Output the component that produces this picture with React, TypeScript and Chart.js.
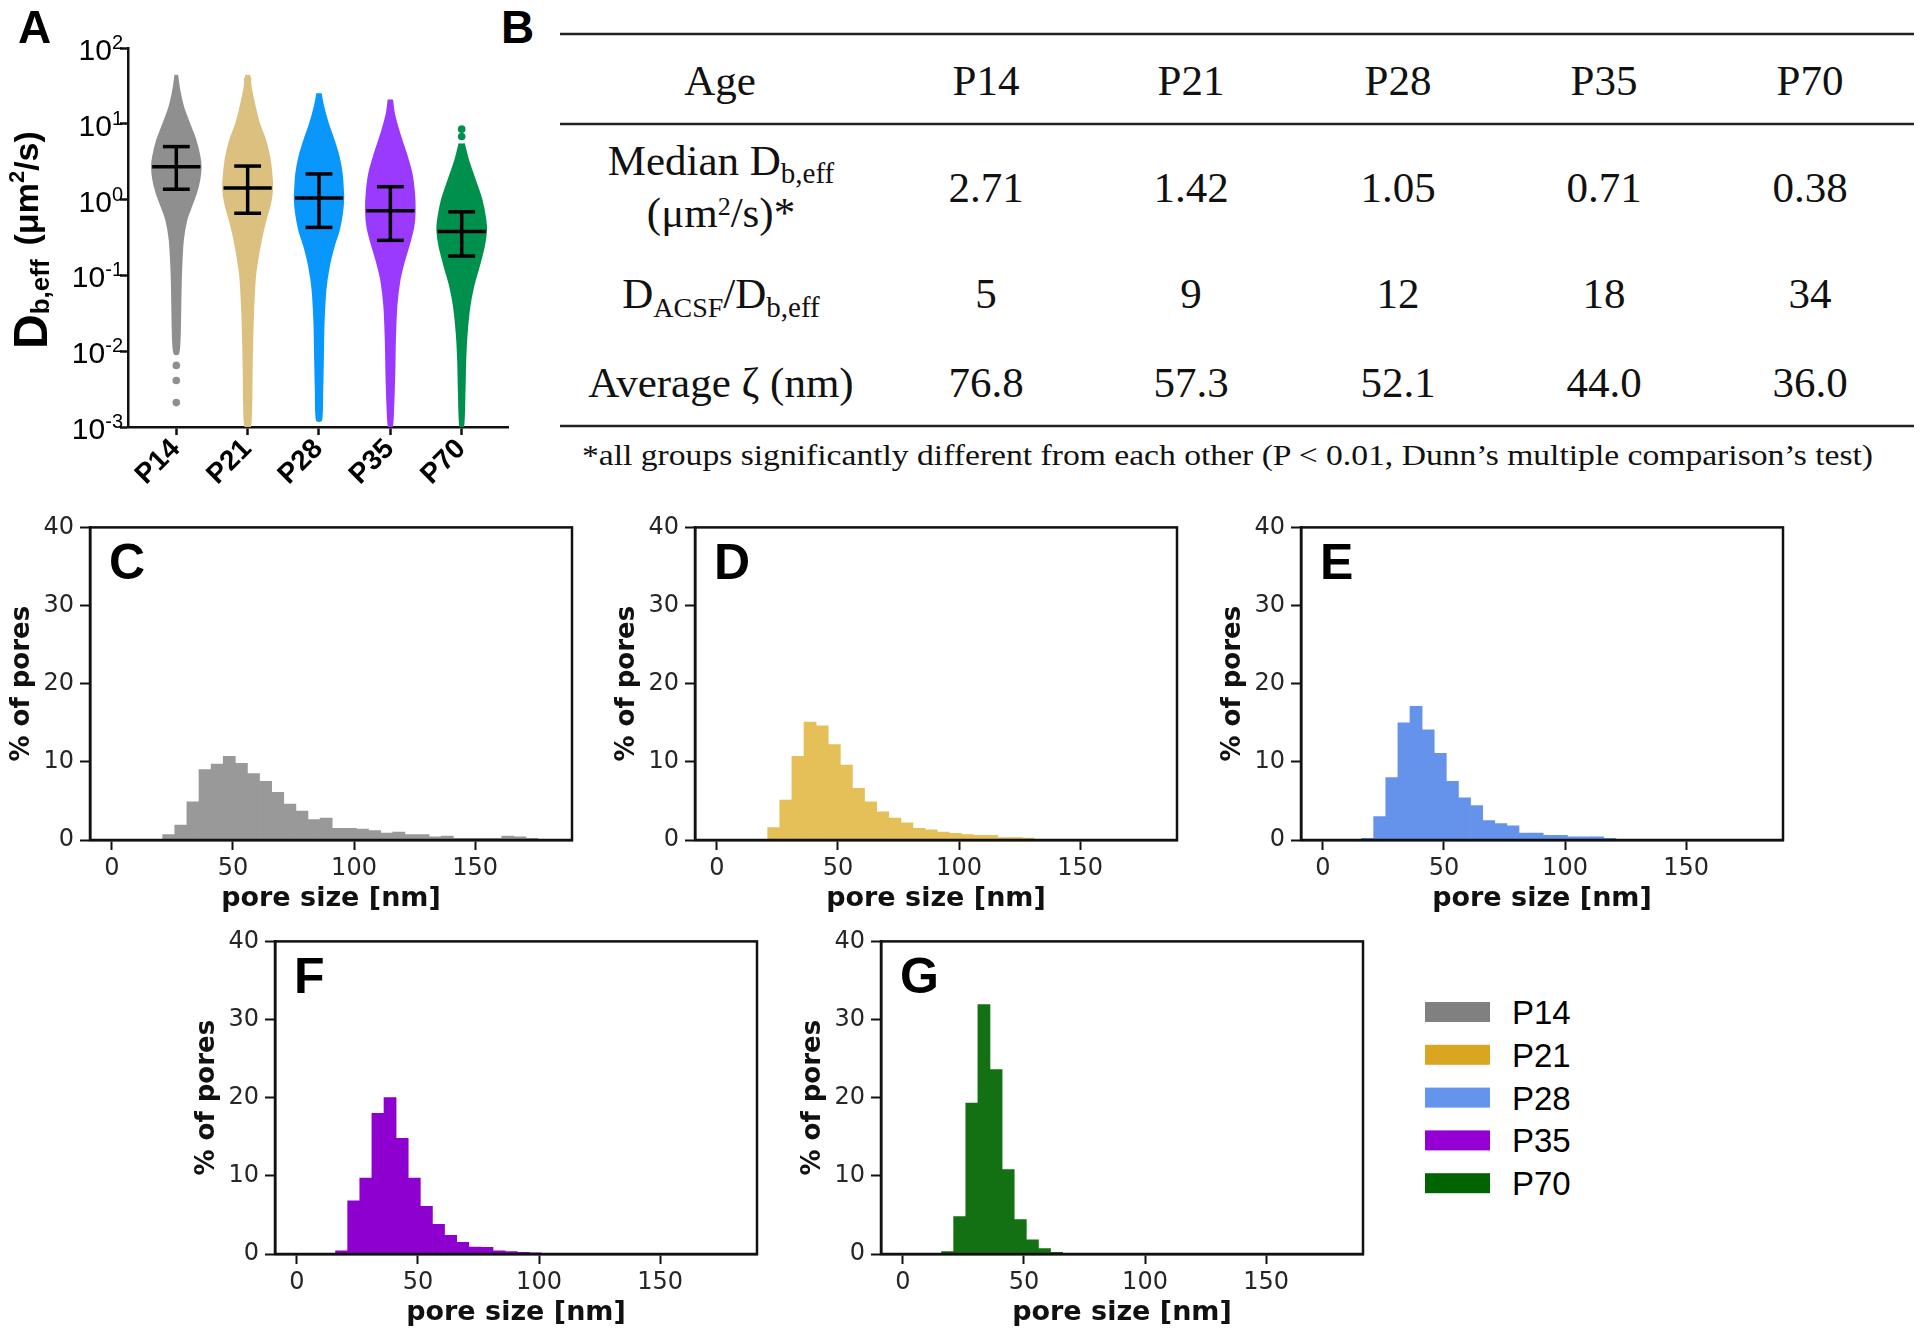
import React, { useEffect, useRef } from 'react';
import { Chart, registerables } from 'chart.js';

Chart.register(...registerables);

const SANS = '"Liberation Sans", Arial, sans-serif';
const DJV = '"DejaVu Sans", sans-serif';
const SERIF = '"Liberation Serif", "Times New Roman", serif';

// ---------------- Panel A data ----------------
const ageGroups = ['P14', 'P21', 'P28', 'P35', 'P70'];
const decadeTicks = [0.001, 0.01, 0.1, 1, 10, 100];
const decadeExponents = ['-3', '-2', '-1', '0', '1', '2'];
const medianD = [2.71, 1.42, 1.05, 0.71, 0.38];
const upperD = [5.0, 2.77, 2.18, 1.48, 0.69];
const lowerD = [1.37, 0.66, 0.43, 0.29, 0.18];
const violinColors = ['#8F8F8F', '#DCC07F', '#0A97FB', '#9A3AFE', '#00904D'];

// violin outlines: D values (µm²/s) top→bottom and half widths (category units)
const p14ViolinD = [44.1, 27.9, 16.8, 10.1, 6.11, 3.68, 2.72, 1.82, 1.21, 0.807, 0.537, 0.293, 0.107, 0.0389, 0.0141, 0.0093];
const p14ViolinW = [0.012, 0.042, 0.095, 0.18, 0.268, 0.325, 0.34, 0.322, 0.275, 0.205, 0.14, 0.092, 0.066, 0.056, 0.046, 0.025];
const p21ViolinD = [44.1, 27.9, 16.8, 10.1, 6.11, 3.68, 2.22, 1.41, 0.891, 0.537, 0.293, 0.107, 0.0389, 0.0141, 0.00513, 0.00186, 0.001];
const p21ViolinW = [0.02, 0.05, 0.1, 0.16, 0.245, 0.302, 0.332, 0.343, 0.315, 0.25, 0.185, 0.108, 0.079, 0.064, 0.055, 0.049, 0.03];
const p28ViolinD = [25.2, 16.8, 10.1, 6.11, 3.68, 2.22, 1.34, 1.04, 0.661, 0.398, 0.24, 0.132, 0.0646, 0.0234, 0.00851, 0.00309, 0.00123];
const p28ViolinW = [0.024, 0.06, 0.125, 0.205, 0.275, 0.318, 0.335, 0.34, 0.322, 0.278, 0.205, 0.138, 0.09, 0.064, 0.055, 0.045, 0.03];
const p35ViolinD = [20.9, 13.7, 7.48, 4.07, 2.22, 1.21, 0.695, 0.437, 0.263, 0.158, 0.0871, 0.0389, 0.0141, 0.00513, 0.00186, 0.001];
const p35ViolinW = [0.024, 0.05, 0.125, 0.218, 0.296, 0.332, 0.34, 0.322, 0.264, 0.194, 0.128, 0.084, 0.064, 0.055, 0.04, 0.02];
const p70ViolinD = [5.5, 3.31, 1.81, 0.986, 0.537, 0.38, 0.24, 0.132, 0.0708, 0.0389, 0.0174, 0.00776, 0.00309, 0.001];
const p70ViolinW = [0.03, 0.09, 0.185, 0.278, 0.332, 0.34, 0.31, 0.24, 0.16, 0.108, 0.07, 0.05, 0.04, 0.02];
const p14Outliers = [0.0065, 0.0041, 0.0021];
const p21Outliers = [38.0];
const p28Outliers: number[] = [];
const p35Outliers: number[] = [];
const p70Outliers = [8.5, 6.8];

const violinD = [p14ViolinD, p21ViolinD, p28ViolinD, p35ViolinD, p70ViolinD];
const violinW = [p14ViolinW, p21ViolinW, p28ViolinW, p35ViolinW, p70ViolinW];
const outlierD = [p14Outliers, p21Outliers, p28Outliers, p35Outliers, p70Outliers];

// ---------------- Panel B data ----------------
const tableMedian = ['2.71', '1.42', '1.05', '0.71', '0.38'];
const tableRatio = ['5', '9', '12', '18', '34'];
const tableZeta = ['76.8', '57.3', '52.1', '44.0', '36.0'];
const footnote = '*all groups significantly different from each other (P < 0.01, Dunn\u2019s multiple comparison\u2019s test)';

// ---------------- Panels C–G data ----------------
const poreBins = [3.5, 8.5, 13.5, 18.5, 23.5, 28.5, 33.5, 38.5, 43.5, 48.5, 53.5, 58.5, 63.5, 68.5, 73.5, 78.5, 83.5, 88.5,
  93.5, 98.5, 103.5, 108.5, 113.5, 118.5, 123.5, 128.5, 133.5, 138.5, 143.5, 148.5, 153.5, 158.5, 163.5, 168.5, 173.5, 178.5];
const poreTicks = [0, 50, 100, 150];
const percentTicks = [0, 10, 20, 30, 40];
const histP14 = [0, 0, 0, 0, 0.7, 1.9, 4.9, 9.0, 9.7, 10.7, 9.8, 8.5, 7.5, 6.1, 4.6, 3.7, 2.6, 2.8, 1.5, 1.5, 1.4, 1.2, 0.9, 1.0,
  0.7, 0.7, 0.4, 0.5, 0.2, 0.2, 0.2, 0.2, 0.5, 0.4, 0.2, 0.1];
const histP21 = [0, 0, 0, 0, 1.6, 5.1, 10.7, 15.1, 14.6, 12.2, 9.6, 6.6, 4.9, 3.6, 2.8, 2.2, 1.5, 1.3, 1.0, 0.85, 0.7, 0.6, 0.6, 0.3,
  0.3, 0.25, 0.1, 0.1, 0.05, 0.05, 0, 0, 0, 0, 0, 0];
const histP28 = [0, 0, 0, 0.2, 3.0, 8.0, 15.0, 17.1, 14.1, 11.1, 7.5, 5.4, 4.4, 2.5, 2.1, 1.8, 0.9, 0.9, 0.6, 0.6, 0.4, 0.4, 0.4, 0.2,
  0.1, 0, 0, 0, 0, 0, 0, 0, 0, 0, 0, 0];
const histP35 = [0, 0, 0, 0.4, 6.8, 9.7, 18.0, 20.0, 14.8, 9.7, 6.1, 3.8, 2.4, 1.5, 0.9, 0.85, 0.4, 0.3, 0.2, 0.15, 0.1, 0.05, 0.05, 0,
  0, 0, 0, 0, 0, 0, 0, 0, 0, 0, 0, 0];
const histP70 = [0, 0, 0, 0.3, 4.8, 19.3, 31.9, 23.6, 10.8, 4.4, 1.8, 0.7, 0.2, 0.1, 0, 0, 0, 0, 0, 0, 0, 0, 0, 0,
  0, 0, 0, 0, 0, 0, 0, 0, 0, 0, 0, 0];
const histColors = ['#999999', '#E5BF57', '#6593EB', '#8E00CF', '#137113'];
const legendColors = ['#808080', '#DAA520', '#6495ED', '#9400D3', '#006400'];

// ---------------- layout constants ----------------
const MEDIAN_HALF = 0.338;
const CAP_HALF = 0.188;

const panelAPlugin = {
  id: 'panelAText',
  afterDraw(chart: any) {
    const { ctx, chartArea } = chart;
    const x = chart.scales.x;
    const y = chart.scales.y;
    ctx.save();
    ctx.fillStyle = '#000';
    ctx.textBaseline = 'alphabetic';
    // y tick labels 10^n
    decadeTicks.forEach((v, i) => {
      const py = y.getPixelForValue(v);
      ctx.font = `30px ${SANS}`;
      const w10 = ctx.measureText('10').width;
      ctx.font = `20px ${SANS}`;
      const we = ctx.measureText(decadeExponents[i]).width;
      const right = chartArea.left - 5;
      ctx.textAlign = 'left';
      ctx.font = `30px ${SANS}`;
      ctx.fillText('10', right - we - w10, py + 12);
      ctx.font = `20px ${SANS}`;
      ctx.fillText(decadeExponents[i], right - we, py + 1);
    });
    // rotated category labels
    ctx.font = `bold 28px ${SANS}`;
    ctx.textAlign = 'right';
    ageGroups.forEach((g, i) => {
      const px = x.getPixelForValue(i);
      ctx.save();
      ctx.translate(px + 5, chartArea.bottom + 23);
      ctx.rotate(-Math.PI / 4);
      ctx.fillText(g, 0, 0);
      ctx.restore();
    });
    // y title
    ctx.save();
    ctx.translate(47, 349);
    ctx.rotate(-Math.PI / 2);
    ctx.textAlign = 'left';
    ctx.font = `bold 48px ${SANS}`;
    ctx.fillText('D', 0, 0);
    let cx = ctx.measureText('D').width;
    ctx.font = `bold 26px ${SANS}`;
    ctx.fillText('b,eff', cx, 2);
    cx += ctx.measureText('b,eff').width + 14;
    ctx.font = `bold 34px ${SANS}`;
    ctx.fillText('(\u03bcm', cx, -9);
    cx += ctx.measureText('(\u03bcm').width;
    ctx.font = `bold 22px ${SANS}`;
    ctx.fillText('2', cx, -23);
    cx += ctx.measureText('2').width;
    ctx.font = `bold 34px ${SANS}`;
    ctx.fillText('/s)', cx, -9);
    ctx.restore();
    // panel letter
    ctx.textAlign = 'left';
    ctx.font = `bold 46px ${SANS}`;
    ctx.fillText('A', 18, 43);
    ctx.restore();
  },
};

function buildPanelA(canvas: HTMLCanvasElement) {
  const datasets: any[] = [];
  ageGroups.forEach((_, i) => {
    const seg = (pts: any[]) => ({
      type: 'line', data: pts, borderColor: '#000', backgroundColor: '#000', borderWidth: 3.5,
      pointRadius: 0, fill: false, tension: 0, order: 0, borderCapStyle: 'butt',
    });
    datasets.push(seg([{ x: i - MEDIAN_HALF, y: medianD[i] }, { x: i + MEDIAN_HALF, y: medianD[i] }]));
    datasets.push(seg([{ x: i - CAP_HALF, y: upperD[i] }, { x: i + CAP_HALF, y: upperD[i] }]));
    datasets.push(seg([{ x: i - CAP_HALF, y: lowerD[i] }, { x: i + CAP_HALF, y: lowerD[i] }]));
    datasets.push(seg([{ x: i, y: lowerD[i] }, { x: i, y: upperD[i] }]));
  });
  ageGroups.forEach((_, i) => {
    const col = violinColors[i];
    const right = violinD[i].map((d, k) => ({ x: i + violinW[i][k], y: d }));
    const left = violinD[i].map((d, k) => ({ x: i - violinW[i][k], y: d })).reverse();
    datasets.push({
      type: 'line', data: [...right, ...left], borderColor: col, backgroundColor: col, borderWidth: 2,
      pointRadius: 0, fill: 'shape', tension: 0.3, order: 2,
    });
    datasets.push({
      type: 'line', data: outlierD[i].map((d) => ({ x: i, y: d })), showLine: false, pointRadius: 3.8,
      pointBackgroundColor: col, pointBorderWidth: 0, borderColor: col, order: 1,
    });
  });
  return new Chart(canvas, {
    type: 'line',
    data: { datasets },
    options: {
      animation: false,
      responsive: false,
      devicePixelRatio: 1,
      layout: { padding: { top: 48, right: 12, left: 0, bottom: 0 } },
      plugins: { legend: { display: false }, tooltip: { enabled: false } },
      scales: {
        x: {
          type: 'linear', min: -0.677, max: 4.649,
          afterBuildTicks: (s: any) => { s.ticks = ageGroups.map((_, i) => ({ value: i })); },
          afterFit: (s: any) => { s.height = 73; },
          ticks: { display: false },
          grid: { display: true, drawOnChartArea: false, drawTicks: true, tickLength: 8, tickWidth: 2.5, tickColor: '#111' },
          border: { display: true, color: '#111', width: 2.5 },
        },
        y: {
          type: 'logarithmic', min: 0.001, max: 100,
          afterBuildTicks: (s: any) => { s.ticks = decadeTicks.map((v) => ({ value: v, major: true })); },
          afterFit: (s: any) => { s.width = 128; },
          ticks: { display: false },
          grid: { display: true, drawOnChartArea: false, drawTicks: true, tickLength: 8, tickWidth: 2.5, tickColor: '#111' },
          border: { display: true, color: '#111', width: 2.5 },
        },
      },
    } as any,
    plugins: [panelAPlugin],
  } as any);
}

function histPlugin(letter: string) {
  return {
    id: 'histDecor' + letter,
    afterDraw(chart: any) {
      const { ctx, chartArea } = chart;
      ctx.save();
      ctx.strokeStyle = '#111';
      ctx.lineWidth = 2.5;
      ctx.strokeRect(chartArea.left, chartArea.top, chartArea.right - chartArea.left, chartArea.bottom - chartArea.top);
      ctx.fillStyle = '#000';
      ctx.font = `bold 50px ${SANS}`;
      ctx.textAlign = 'left';
      ctx.textBaseline = 'alphabetic';
      ctx.fillText(letter, chartArea.left + 19, chartArea.top + 52);
      ctx.restore();
    },
  };
}

function buildHist(values: number[], color: string, letter: string) {
  return (canvas: HTMLCanvasElement) => new Chart(canvas, {
    type: 'bar',
    data: {
      datasets: [{
        data: poreBins.map((b, i) => ({ x: b, y: values[i] })),
        backgroundColor: color, borderWidth: 0, barPercentage: 1, categoryPercentage: 1,
      }],
    },
    options: {
      animation: false,
      responsive: false,
      devicePixelRatio: 1,
      layout: { padding: { top: 20, right: 12, left: 0, bottom: 0 } },
      plugins: { legend: { display: false }, tooltip: { enabled: false } },
      scales: {
        x: {
          type: 'linear', min: -9, max: 190, offset: false,
          afterBuildTicks: (s: any) => { s.ticks = poreTicks.map((v) => ({ value: v })); },
          afterFit: (s: any) => { s.height = 75; },
          ticks: { font: { family: DJV, size: 24 }, color: '#262626', padding: 4, maxRotation: 0 },
          grid: { display: true, offset: false, drawOnChartArea: false, drawTicks: true, tickLength: 10, tickWidth: 2, tickColor: '#111' },
          border: { display: true, color: '#111', width: 2.5 },
          title: { display: true, text: 'pore size [nm]', font: { family: DJV, size: 27, weight: 'bold' }, color: '#111', padding: 0 },
        },
        y: {
          min: 0, max: 40,
          afterBuildTicks: (s: any) => { s.ticks = percentTicks.map((v) => ({ value: v })); },
          afterFit: (s: any) => { s.width = 90; },
          ticks: { font: { family: DJV, size: 24 }, color: '#262626', padding: 6 },
          grid: { display: true, drawOnChartArea: false, drawTicks: true, tickLength: 10, tickWidth: 2, tickColor: '#111' },
          border: { display: true, color: '#111', width: 2.5 },
          title: { display: true, text: '% of pores', font: { family: DJV, size: 26, weight: 'bold' }, color: '#111', padding: { top: 7, bottom: 0 } },
        },
      },
    } as any,
    plugins: [histPlugin(letter)],
  } as any);
}

function ChartCanvas({ left, top, width, height, build }: { left: number; top: number; width: number; height: number; build: (c: HTMLCanvasElement) => Chart }) {
  const ref = useRef<HTMLCanvasElement>(null);
  useEffect(() => {
    const chart = build(ref.current as HTMLCanvasElement);
    return () => chart.destroy();
  }, []);
  return <canvas ref={ref} width={width} height={height} style={{ position: 'absolute', left, top, width, height }} />;
}

const colX = [986, 1191, 1398, 1604, 1810];

function TablePanel() {
  const lineY = [34, 124, 426];
  return (
    <svg width={1920} height={1335} style={{ position: 'absolute', left: 0, top: 0 }}>
      <text x={501} y={43} fontFamily={SANS} fontWeight="bold" fontSize={46} fill="#000">B</text>
      {lineY.map((ly) => <line key={ly} x1={560} x2={1914} y1={ly} y2={ly} stroke="#222" strokeWidth={2.5} />)}
      <g fontFamily={SERIF} fontSize={43} fill="#111" textAnchor="middle">
        <text x={720} y={95}>Age</text>
        {ageGroups.map((g, i) => <text key={g} x={colX[i]} y={95}>{g}</text>)}
        <text x={721} y={175}>Median D<tspan fontSize={29} dy={8}>b,eff</tspan></text>
        <text x={721} y={227}>({'\u03bc'}m<tspan fontSize={26} dy={-12}>2</tspan><tspan dy={12}>/s)*</tspan></text>
        {tableMedian.map((v, i) => <text key={'m' + i} x={colX[i]} y={202}>{v}</text>)}
        <text x={721} y={308}>D<tspan fontSize={28} dy={9}>ACSF</tspan><tspan dy={-9}>/D</tspan><tspan fontSize={29} dy={9}>b,eff</tspan></text>
        {tableRatio.map((v, i) => <text key={'r' + i} x={colX[i]} y={308}>{v}</text>)}
        <text x={721} y={397}>Average {'\u03b6'} (nm)</text>
        {tableZeta.map((v, i) => <text key={'z' + i} x={colX[i]} y={397}>{v}</text>)}
      </g>
      <text x={582} y={465} fontFamily={SERIF} fontSize={29} fill="#111" textLength={1291} lengthAdjust="spacingAndGlyphs">{footnote}</text>
      {ageGroups.map((g, i) => (
        <g key={'lg' + g}>
          <rect x={1425} y={1002 + i * 42.8} width={65} height={20} fill={legendColors[i]} />
          <text x={1512} y={1024 + i * 42.8} fontFamily={SANS} fontSize={33} fill="#000">{g}</text>
        </g>
      ))}
    </svg>
  );
}

export default function App() {
  const hists = [
    { left: 0, top: 507, values: histP14, color: histColors[0], letter: 'C' },
    { left: 605, top: 507, values: histP21, color: histColors[1], letter: 'D' },
    { left: 1211, top: 507, values: histP28, color: histColors[2], letter: 'E' },
    { left: 185, top: 921, values: histP35, color: histColors[3], letter: 'F' },
    { left: 791, top: 921, values: histP70, color: histColors[4], letter: 'G' },
  ];
  return (
    <div style={{ position: 'absolute', left: 0, top: 0, width: 1920, height: 1335, background: '#fff', overflow: 'hidden' }}>
      <TablePanel />
      <ChartCanvas left={0} top={0} width={520} height={500} build={buildPanelA} />
      {hists.map((h) => (
        <ChartCanvas key={h.letter} left={h.left} top={h.top} width={584} height={408} build={buildHist(h.values, h.color, h.letter)} />
      ))}
    </div>
  );
}
